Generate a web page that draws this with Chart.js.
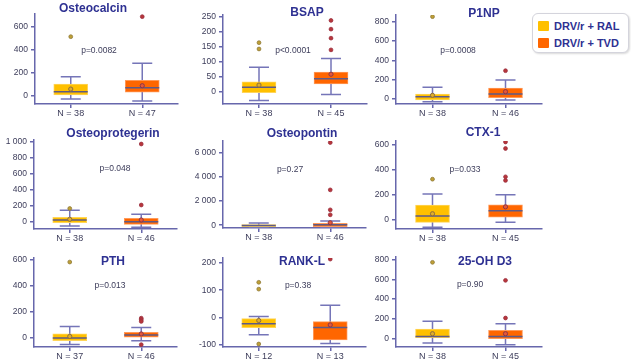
<!DOCTYPE html>
<html><head><meta charset="utf-8">
<script src="https://cdn.jsdelivr.net/npm/chart.js@4.4.0/dist/chart.umd.min.js"></script>
<style>
html,body{margin:0;padding:0;background:#fff;}
body{width:631px;height:364px;overflow:hidden;position:relative;font-family:"Liberation Sans",Arial,sans-serif;}
canvas{position:absolute;}
.t{position:absolute;transform:translate(-50%,-50%);white-space:nowrap;line-height:1;}
.title{font-weight:bold;font-size:12px;color:#2E3192;}
.p{font-size:8.5px;color:#3C3C5A;}
#legend{position:absolute;left:532px;top:13px;width:95px;height:38px;border:1px solid #d4d4dc;border-radius:6px;background:#fff;box-shadow:1px 1px 2px rgba(0,0,0,0.15);}
.li{position:absolute;left:5px;font-weight:bold;font-size:11px;color:#2E3192;line-height:11px;}
.sw{display:inline-block;width:11px;height:10px;vertical-align:top;margin-right:5px;border-radius:1px;}
</style></head><body>
<div id="legend">
  <div class="li" style="top:7px"><span class="sw" style="background:#FFC000"></span>DRV/r + RAL</div>
  <div class="li" style="top:24px"><span class="sw" style="background:#FF6600"></span>DRV/r + TVD</div>
</div>
<script>
// ---------- data ----------
const panelTitles = ['Osteocalcin','BSAP','P1NP','Osteoprotegerin','Osteopontin','CTX-1','PTH','RANK-L','25-OH D3'];
const pLabels = ['p=0.0082','p<0.0001','p=0.0008','p=0.048','p=0.27','p=0.033','p=0.013','p=0.38','p=0.90'];
const nRal = [38,38,38,38,38,38,37,12,38];
const nTvd = [47,45,46,46,46,45,46,13,45];

const ralQ1     = [0,  -3, -10,  -9, -120, -24, -21, -37,   0];
const ralMedian = [35, 15,  24,  25,  -20,  26,   0, -23,  20];
const ralQ3     = [102,33,  52,  58,   60, 114,  31,  -4,  95];
const ralLow    = [-29,-29,-28, -50, -200, -64, -49, -63, -47];
const ralHigh   = [165,81, 121, 145,  180, 202,  89,   4, 173];
const ralMean   = [58, 22,  38,  33, null,  45,  12, -11,  48];
const ralOutliers = [[513],[163,142],[853],[168],[],[321],[582],[129,104,-97],[772]];

const tvdQ1     = [30, 26,  13, -29, -123,  18,   0, -82,  -2];
const tvdMedian = [70, 43,  52,   4,   30,  69,  23, -37,  20];
const tvdQ3     = [134,65, 114,  46,  148, 116,  43, -15,  81];
const tvdLow    = [-46,-9, -10, -66, -200, -24, -21, -95, -64];
const tvdHigh   = [282,110,197,  96,  345, 196,  81,  45, 149];
const tvdMean   = [87, 58,  76,  25,  205, 100,  31, -27,  48];
const tvdOutliers = [[687],[237,208,178,139],[293],[211,969],[6850,2930,1275,864],[618,566,340,311],[152,140,127,-51],[214],[207,589]];

const yMins  = [-72, -41, -52, -87, -230, -77, -69, -108, -87];
const yMaxs  = [710, 255, 870, 1019, 6980, 626, 613, 218, 826];
const yTicks = [[0,200,400,600],[0,50,100,150,200,250],[0,200,400,600,800],[0,200,400,600,800,1000],
                [0,2000,4000,6000],[0,200,400,600],[0,200,400,600],[-100,0,100,200],[0,200,400,600,800]];

// ---------- layout (plot area left, top, right, bottom) ----------
const plotBoxes = [[35,14,178,104],[223,15,367,104],[396,15,542,104],
                   [34,140,177,229],[223,141,366,228],[396,141,542,229],
                   [34,258,177,347],[223,258,366,347],[396,257,542,347]];
const titlePos = [[93,8],[307,12],[484,13],[113,133],[302,133],[483,132],[113,261],[302,261],[485,261]];
const pPos = [[99,50],[293,50],[458,50],[115,168],[290,169],[465,169],[110,285],[298,285],[470,284]];

const YEL='#FFC000', ORG='#FF6600', AXIS='#6767AC', WHISK='#7575B8', MED='#5E5A86', TXT='#3C3C5A';
const FONT='"Liberation Sans", Arial, sans-serif';

function fmt(v){ const s=String(Math.abs(v)).replace(/\B(?=(\d{3})+(?!\d))/g,' '); return (v<0?'-':'')+s; }

function makePlugin(groups){
  return {
    id:'boxExtras',
    beforeDatasetsDraw(chart){
      const x=chart.scales.x, y=chart.scales.y, ctx=chart.ctx, a=chart.chartArea;
      ctx.save();
      ctx.beginPath(); ctx.rect(a.left,a.top,a.right-a.left,a.bottom-a.top); ctx.clip();
      ctx.strokeStyle=WHISK; ctx.lineWidth=1.5;
      groups.forEach((g,i)=>{
        const px=x.getPixelForValue(i), yl=y.getPixelForValue(g.low), yh=y.getPixelForValue(g.high);
        ctx.beginPath();
        ctx.moveTo(px,yl); ctx.lineTo(px,yh);
        ctx.moveTo(px-10,yl); ctx.lineTo(px+10,yl);
        ctx.moveTo(px-10,yh); ctx.lineTo(px+10,yh);
        ctx.stroke();
      });
      ctx.restore();
    },
    afterDatasetDraw(chart,args){
      if(args.index!==0) return;
      const x=chart.scales.x, y=chart.scales.y, ctx=chart.ctx, meta=chart.getDatasetMeta(0);
      ctx.save();
      ctx.strokeStyle=MED; ctx.lineWidth=1.5;
      groups.forEach((g,i)=>{
        const px=x.getPixelForValue(i), w=meta.data[i].width, ym=y.getPixelForValue(g.median);
        ctx.beginPath(); ctx.moveTo(px-w/2,ym); ctx.lineTo(px+w/2,ym); ctx.stroke();
      });
      ctx.restore();
    }
  };
}

const YW=45, XH=22, PT=12, PR=8;
panelTitles.forEach((title,i)=>{
  const [L,T,R,B]=plotBoxes[i];
  const cv=document.createElement('canvas');
  const W=(R-L)+YW+PR, H=(B-T)+PT+XH;
  cv.width=W; cv.height=H;
  cv.style.left=(L-YW)+'px'; cv.style.top=(T-PT)+'px';
  cv.style.width=W+'px'; cv.style.height=H+'px';
  document.body.appendChild(cv);

  const labs=['N = '+nRal[i],'N = '+nTvd[i]];
  const groups=[
    {low:ralLow[i],high:ralHigh[i],median:ralMedian[i]},
    {low:tvdLow[i],high:tvdHigh[i],median:tvdMedian[i]}
  ];
  const means=[];
  if(ralMean[i]!==null) means.push({x:labs[0],y:ralMean[i]});
  if(tvdMean[i]!==null) means.push({x:labs[1],y:tvdMean[i]});
  const meanFill = means.map(m=>m.x===labs[0]?'#E0AE2A':'#E4583A');
  const meanBorder = means.map(m=>m.x===labs[0]?'#8C6D3F':'#8E3546');

  new Chart(cv,{
    type:'bar',
    data:{
      labels:labs,
      datasets:[
        {type:'bar',data:[[ralQ1[i],ralQ3[i]],[tvdQ1[i],tvdQ3[i]]],
         backgroundColor:[YEL,ORG],borderColor:['#FFD55A','#FF9A5A'],borderWidth:1,borderSkipped:false,
         barThickness:34,order:2},
        {type:'scatter',data:means,pointRadius:2.1,pointBorderWidth:1,
         pointBackgroundColor:meanFill,pointBorderColor:meanBorder,order:0},
        {type:'scatter',data:ralOutliers[i].map(v=>({x:labs[0],y:v})),pointRadius:1.9,pointBorderWidth:0.8,
         pointBackgroundColor:'#BFA036',pointBorderColor:'#8F7A3A',order:0},
        {type:'scatter',data:tvdOutliers[i].map(v=>({x:labs[1],y:v})),pointRadius:1.9,pointBorderWidth:0.8,
         pointBackgroundColor:'#B8363A',pointBorderColor:'#9A3040',order:0}
      ]
    },
    options:{
      responsive:false,animation:false,devicePixelRatio:1,
      layout:{padding:{top:PT,right:PR,left:0,bottom:0}},
      plugins:{legend:{display:false},tooltip:{enabled:false}},
      scales:{
        x:{type:'category',offset:true,
           grid:{display:true,drawOnChartArea:false,offset:false,tickLength:4,color:AXIS,lineWidth:1.5},
           border:{display:true,color:AXIS,width:1.5},
           ticks:{font:{size:9,family:FONT},color:TXT,padding:0,maxRotation:0,autoSkip:false},
           afterFit(s){s.height=XH;}},
        y:{type:'linear',min:yMins[i],max:yMaxs[i],
           afterBuildTicks(s){s.ticks=yTicks[i].map(v=>({value:v}));},
           grid:{display:true,drawOnChartArea:false,tickLength:4,color:AXIS,lineWidth:1.5},
           border:{display:true,color:AXIS,width:1.5},
           ticks:{font:{size:8.5,family:FONT},color:TXT,padding:3,callback:(v)=>fmt(v)},
           afterFit(s){s.width=YW;}}
      }
    },
    plugins:[makePlugin(groups)]
  });

  const t=document.createElement('div'); t.className='t title'; t.textContent=title;
  t.style.left=titlePos[i][0]+'px'; t.style.top=titlePos[i][1]+'px'; document.body.appendChild(t);
  const p=document.createElement('div'); p.className='t p'; p.textContent=pLabels[i];
  p.style.left=pPos[i][0]+'px'; p.style.top=pPos[i][1]+'px'; document.body.appendChild(p);
});
</script>
</body></html>
